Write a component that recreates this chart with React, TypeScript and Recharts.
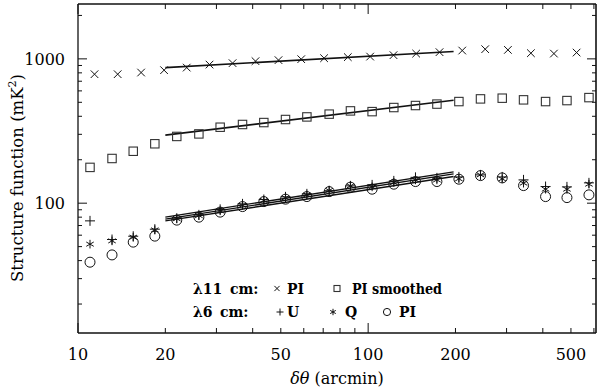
import { ComposedChart, Scatter, Line, XAxis, YAxis } from 'recharts'

// lag bins (arcmin) for the lambda11 PI series
const pi11X = [11.4, 13.7, 16.5, 19.8, 23.7, 28.4, 34.1, 40.9, 49.1, 58.8, 70.5, 85.1, 101.6, 122.3, 146.4, 176.2, 211, 253.2, 303.2, 363.9, 436.8, 522.9]
const pi11Y = [783, 783, 804, 835, 870, 913, 934, 964, 980, 995, 1011, 1028, 1037, 1061, 1088, 1113, 1142, 1167, 1154, 1095, 1088, 1106]

// lag bins shared by smoothed PI and the lambda6 series
const lagX = [11.0, 13.1, 15.5, 18.4, 21.9, 26.1, 30.9, 36.9, 43.7, 51.9, 61.5, 73.4, 86.9, 103.2, 122.6, 145.6, 172.6, 205.5, 243.9, 289.8, 343.2, 408.8, 484.4, 576.8]
const smoothY = [177, 204, 229, 258, 290, 302, 336, 351, 362, 380, 396, 414, 436, 431, 460, 475, 486, 506, 528, 534, 520, 506, 514, 539]
const uY = [75.4, 56, 59, 66, 78.7, 83, 90.6, 98.9, 106, 110.6, 116, 122, 131.8, 133.9, 142.7, 151, 149.7, 152, 157, 152, 145, 130.4, 129.7, 138.3]
const qY = [52.0, 54.8, 58.1, 65.3, 78, 82, 88.5, 96.5, 104.5, 109, 114, 122.6, 131.8, 129.7, 139, 145, 145, 147.4, 157, 147.4, 137.6, 125, 125, 135.4]
const pi6Y = [39.0, 43.8, 53.7, 59.1, 76.3, 80.0, 86.7, 94.7, 102.6, 106.6, 111.1, 120.3, 129.1, 125.0, 135.4, 141.2, 141.2, 146.6, 155.3, 149.7, 132.4, 111.1, 109.3, 114.2]

// power-law fits between 20' and ~200'
const fitX = [20, 197]
const fitPi11 = [870, 1124]
const fitSmooth = [296, 517]
const fitU = [80.0, 164.8]
const fitQ = [77.5, 159.6]
const fitPi6 = [75.4, 152.9]

const xTicks = [10, 20, 30, 40, 50, 60, 70, 80, 90, 100, 200, 300, 400, 500, 600]
const xLabels = [10, 20, 50, 100, 200, 500]
const yTicks = [20, 30, 40, 50, 60, 70, 80, 90, 100, 200, 300, 400, 500, 600, 700, 800, 900, 1000, 2000]
const yLabels = [100, 1000]
const X_DOMAIN = [10, 610]
const Y_DOMAIN = [12.6, 2400]

const W = 600
const H = 389
const MARGIN = { top: 4, right: 4, bottom: 0, left: 0 }
const Y_AXIS_W = 78
const X_AXIS_H = 56
const PLOT_L = MARGIN.left + Y_AXIS_W
const PLOT_T = MARGIN.top
const PLOT_R = W - MARGIN.right
const PLOT_B = H - MARGIN.bottom - X_AXIS_H

const INK = '#111'
const TXT = '#000'
const FONT = '"DejaVu Serif", serif'

const pts = (xs: number[], ys: number[]) => xs.map((x, i) => ({ x, y: ys[i] }))
const isDecade = (v: number) => Math.abs(Math.log10(v) - Math.round(Math.log10(v))) < 1e-6
const tickLen = (v: number) => (isDecade(v) ? 10 : 5)

function XMark({ cx, cy, s = 3.8 }: any) {
  return (
    <g stroke={INK} strokeWidth={1}>
      <line x1={cx - s} y1={cy - s} x2={cx + s} y2={cy + s} />
      <line x1={cx - s} y1={cy + s} x2={cx + s} y2={cy - s} />
    </g>
  )
}

function SquareMark({ cx, cy, s = 4.2 }: any) {
  return <rect x={cx - s} y={cy - s} width={2 * s} height={2 * s} fill="none" stroke="#333" strokeWidth={1.1} />
}

function PlusMark({ cx, cy, s = 5 }: any) {
  return (
    <g stroke={INK} strokeWidth={1}>
      <line x1={cx - s} y1={cy} x2={cx + s} y2={cy} />
      <line x1={cx} y1={cy - s} x2={cx} y2={cy + s} />
    </g>
  )
}

function StarMark({ cx, cy, s = 4.3 }: any) {
  const dx = s * 0.87
  const dy = s * 0.5
  return (
    <g stroke={INK} strokeWidth={1}>
      <line x1={cx} y1={cy - s} x2={cx} y2={cy + s} />
      <line x1={cx - dx} y1={cy - dy} x2={cx + dx} y2={cy + dy} />
      <line x1={cx - dx} y1={cy + dy} x2={cx + dx} y2={cy - dy} />
    </g>
  )
}

function CircleMark({ cx, cy, s = 5 }: any) {
  return <circle cx={cx} cy={cy} r={s} fill="none" stroke={INK} strokeWidth={1} />
}

// inward ticks on the bottom axis, mirrored on the top edge of the frame
function BottomTick({ x, y, payload }: any) {
  const v = payload.value
  return (
    <g>
      <line x1={x} y1={y} x2={x} y2={y - tickLen(v)} stroke={INK} />
      <line x1={x} y1={PLOT_T} x2={x} y2={PLOT_T + tickLen(v)} stroke={INK} />
      {xLabels.includes(v) && (
        <text x={x} y={y + 27} textAnchor="middle" fontSize={16} fontFamily={FONT} fill={TXT}>
          {v}
        </text>
      )}
    </g>
  )
}

// inward ticks on the left axis, mirrored on the right edge of the frame
function LeftTick({ x, y, payload }: any) {
  const v = payload.value
  return (
    <g>
      <line x1={x} y1={y} x2={x + tickLen(v) - 1} y2={y} stroke={INK} />
      <line x1={PLOT_R} y1={y} x2={PLOT_R - tickLen(v) + 1} y2={y} stroke={INK} />
      {yLabels.includes(v) && (
        <text x={x - 13} y={y + 6} textAnchor="end" fontSize={16} fontFamily={FONT} fill={TXT}>
          {v}
        </text>
      )}
    </g>
  )
}

function YTitle() {
  return (
    <text transform="translate(23,178) rotate(-90)" textAnchor="middle" fontSize={16.5} fontFamily={FONT} fill={TXT}>
      Structure function (mK
      <tspan dy={-7} fontSize={11}>2</tspan>
      <tspan dy={7}>)</tspan>
    </text>
  )
}

function XTitle() {
  return (
    <text x={337} y={384} textAnchor="middle" fontSize={16} fontFamily={FONT} fill={TXT}>
      <tspan fontStyle="italic">δθ</tspan> (arcmin)
    </text>
  )
}

function KeyBox() {
  const t = { fontSize: 14, fontFamily: FONT, fontWeight: 700, fill: TXT }
  return (
    <svg width={W} height={H} style={{ position: 'absolute', left: 0, top: 0, pointerEvents: 'none' }}>
      {/* top and right edges of the frame */}
      <line x1={PLOT_L} y1={PLOT_T} x2={PLOT_R} y2={PLOT_T} stroke={INK} strokeWidth={1.6} />
      <line x1={PLOT_R} y1={PLOT_T} x2={PLOT_R} y2={PLOT_B} stroke={INK} strokeWidth={1.6} />

      <text x={193} y={293.5} {...t}>λ11</text>
      <text x={230} y={293.5} {...t}>cm:</text>
      <XMark cx={277} cy={288.5} s={2.6} />
      <text x={287} y={293.5} {...t}>PI</text>
      <SquareMark cx={337} cy={288.5} s={3} />
      <text x={352} y={293.5} {...t} textLength={90} lengthAdjust="spacingAndGlyphs">PI smoothed</text>

      <text x={193} y={317} {...t}>λ6</text>
      <text x={220} y={317} {...t}>cm:</text>
      <PlusMark cx={280} cy={312} s={3.5} />
      <text x={287} y={317} {...t}>U</text>
      <StarMark cx={333} cy={312} s={3.2} />
      <text x={345} y={317} {...t}>Q</text>
      <CircleMark cx={387} cy={312} s={3.6} />
      <text x={399} y={317} {...t}>PI</text>

      <YTitle />
      <XTitle />
    </svg>
  )
}

export default function App() {
  return (
    <div style={{ position: 'absolute', left: 0, top: 0, width: W, height: H, background: '#fff' }}>
      <ComposedChart width={W} height={H} margin={MARGIN}>
        <XAxis
          dataKey="x"
          type="number"
          scale="log"
          domain={X_DOMAIN}
          allowDataOverflow
          ticks={xTicks}
          interval={0}
          height={X_AXIS_H}
          tickSize={0}
          tickMargin={0}
          tickLine={false}
          axisLine={{ stroke: INK, strokeWidth: 1.3 }}
          tick={<BottomTick />}
        />
        <YAxis
          dataKey="y"
          type="number"
          scale="log"
          domain={Y_DOMAIN}
          allowDataOverflow
          ticks={yTicks}
          interval={0}
          width={Y_AXIS_W}
          tickSize={0}
          tickMargin={0}
          tickLine={false}
          axisLine={{ stroke: INK, strokeWidth: 1.3 }}
          tick={<LeftTick />}
        />

        <Scatter data={pts(pi11X, pi11Y)} dataKey="y" shape={(p: any) => <XMark cx={p.cx} cy={p.cy} />} isAnimationActive={false} />
        <Scatter data={pts(lagX, smoothY)} dataKey="y" shape={(p: any) => <SquareMark cx={p.cx} cy={p.cy} />} isAnimationActive={false} />
        <Scatter data={pts(lagX, pi6Y)} dataKey="y" shape={(p: any) => <CircleMark cx={p.cx} cy={p.cy} />} isAnimationActive={false} />
        <Scatter data={pts(lagX, qY)} dataKey="y" shape={(p: any) => <StarMark cx={p.cx} cy={p.cy} />} isAnimationActive={false} />
        <Scatter data={pts(lagX, uY)} dataKey="y" shape={(p: any) => <PlusMark cx={p.cx} cy={p.cy} />} isAnimationActive={false} />

        <Line data={pts(fitX, fitPi11)} dataKey="y" stroke="#111" strokeWidth={1.6} dot={false} isAnimationActive={false} />
        <Line data={pts(fitX, fitSmooth)} dataKey="y" stroke="#111" strokeWidth={1.6} dot={false} isAnimationActive={false} />
        <Line data={pts(fitX, fitU)} dataKey="y" stroke="#111" strokeWidth={1.4} dot={false} isAnimationActive={false} />
        <Line data={pts(fitX, fitQ)} dataKey="y" stroke="#111" strokeWidth={1.4} dot={false} isAnimationActive={false} />
        <Line data={pts(fitX, fitPi6)} dataKey="y" stroke="#111" strokeWidth={1.4} dot={false} isAnimationActive={false} />
      </ComposedChart>
      <KeyBox />
    </div>
  )
}
